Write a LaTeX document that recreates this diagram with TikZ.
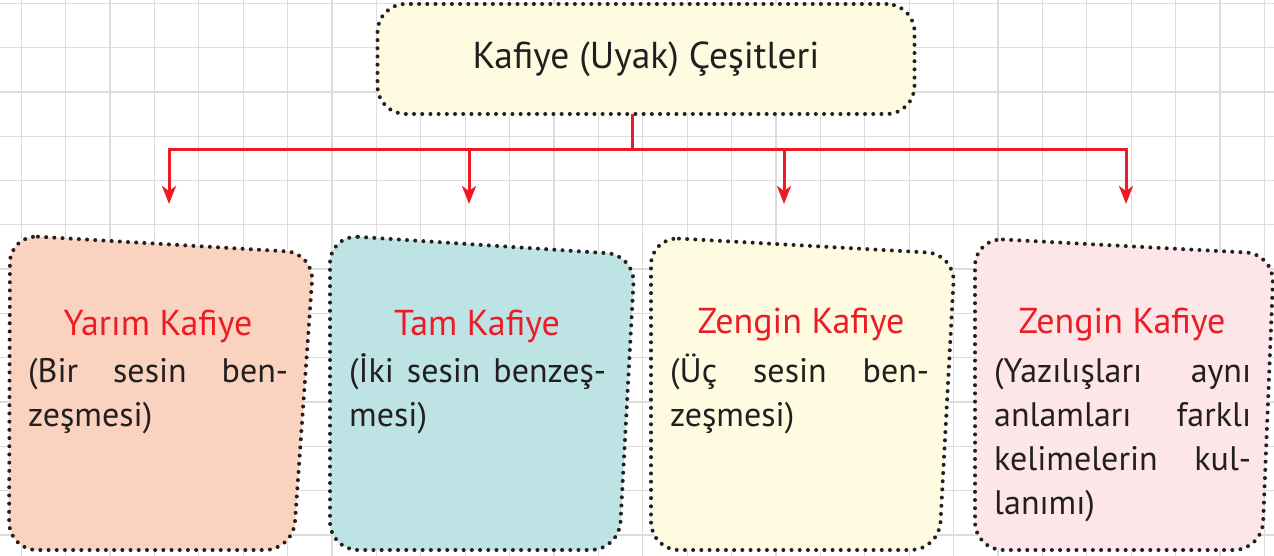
\documentclass[tikz,border=0pt]{standalone}
\usepackage{fontspec}
\setmainfont{PT Sans}
\usetikzlibrary{arrows.meta}
\definecolor{kred}{HTML}{ED1C24}
\definecolor{kink}{HTML}{231F20}
\definecolor{kgrid}{HTML}{DCDCDC}
\definecolor{ksalmon}{HTML}{FAD3C0}
\definecolor{kteal}{HTML}{BDE3E5}
\definecolor{kcream}{HTML}{FEFBE0}
\definecolor{kpink}{HTML}{FCE6E8}
\tikzset{
	gridline/.style={draw=kgrid,line width=1.3pt},
	dotline/.style={draw=kink,line width=4pt,line cap=round,dash pattern=on 0pt off 8.2pt},
	card/.style={dotline,rounded corners=28pt},
	topbox/.style={card,fill=kcream,minimum width=537pt,minimum height=110pt,text=kink,font=\fontsize{37.5}{40}\selectfont},
	cardtitle/.style={anchor=base,inner sep=0pt,text=kred,font=\fontsize{36}{40}\selectfont},
	cardtext/.style={anchor=base west,inner sep=0pt,align=left,text=kink,font=\fontsize{34}{44}\selectfont},
	redline/.style={draw=kred,line width=3pt,line cap=rect},
	redarrow/.style={redline,-{Stealth[length=18pt,width=14pt,inset=5pt]}}
}
\begin{document}
\begin{tikzpicture}[x=1pt,y=-1pt]
	\useasboundingbox (0,0) rectangle (1274,556);
	\fill[white] (0,0) rectangle (1274,556);
	% kareli zemin
	\foreach \i in {0,...,28} \draw[gridline] ({21.2+44.4*\i},0) -- ++(0,556);
	\foreach \j in {0,...,12} \draw[gridline] (0,{3.3+44.3*\j}) -- ++(1274,0);
	% ust baslik
	\node[topbox] (cesit) at (646,59) {Kafiye (Uyak) Çeşitleri};
	% kartlar
	\draw[card,fill=ksalmon] (10,235) -- (314,253) -- (293,550) -- (9,550) -- cycle;
	\draw[card,fill=kteal] (330,235) -- (635,255) -- (619,550) -- (330,550) -- cycle;
	\draw[card,fill=kcream] (651,237) -- (955,254) -- (939,550) -- (651,550) -- cycle;
	\draw[card,fill=kpink] (975,238) -- (1274,254) -- (1262,550) -- (975,550) -- cycle;
	\node[cardtitle] (yarim) at (158,335) {Yarım Kafiye};
	\node[cardtitle] (tam) at (477,335) {Tam Kafiye};
	\node[cardtitle] (zengin) at (801,333) {Zengin Kafiye};
	\node[cardtitle] (cinas) at (1122,333) {Zengin Kafiye};
	\node[cardtext,text width=260pt] (yarimtxt) at (28,382) {\makebox[260pt][s]{(Bir\hfill sesin\hfill ben-}\\zeşmesi)};
	\node[cardtext,text width=257pt] (tamtxt) at (349,382) {\makebox[257pt][s]{(İki\hfill sesin\hfill benzeş-}\\mesi)};
	\node[cardtext,text width=259pt] (zengintxt) at (670,382) {\makebox[259pt][s]{(Üç\hfill sesin\hfill ben-}\\zeşmesi)};
	\node[cardtext,text width=257pt] (cinastxt) at (994,382) {\makebox[257pt][s]{(Yazılışları\hfill aynı}\\\makebox[257pt][s]{anlamları\hfill farklı}\\\makebox[257pt][s]{kelimelerin\hfill kul-}\\lanımı)};
	% kirmizi baglantilar
	\coordinate (hub) at (632,150);
	\draw[redline] (cesit.south -| hub) -- (hub);
	\foreach \n/\x in {1/169,2/469,3/784,4/1126}{
		\coordinate (j\n) at (\x,150);
		\coordinate (e\n) at (\x,204);
		\draw[redarrow] (j\n) -- (e\n);
	}
	\draw[redline] (j1) -- (j4);
\end{tikzpicture}
\end{document}
